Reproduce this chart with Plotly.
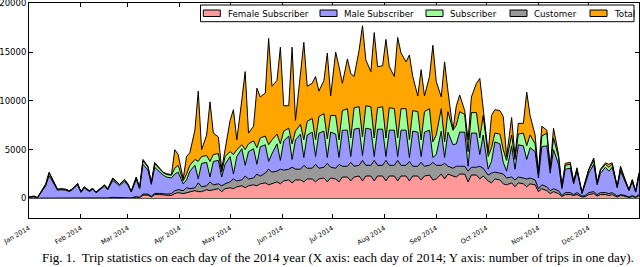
import datetime as dt
import plotly.graph_objects as go

# ---- data ----
day_offsets = [0, 1, 3, 5, 8, 10, 12, 15, 17, 19, 22, 24, 26, 29, 31, 33, 36, 38, 40, 43, 45, 47,
               50, 52, 54, 57, 59, 61, 64, 66, 68, 71, 73, 75, 78, 80, 82, 85, 87, 89, 92, 94, 96,
               99, 101, 103, 106, 108, 110, 113, 115, 117, 120, 122, 124, 127, 129, 131, 134, 136, 138,
               141, 143, 145, 148, 150, 152, 155, 157, 159, 162, 164, 166, 169, 171, 173, 176, 178, 180,
               183, 185, 187, 190, 192, 194, 197, 199, 201, 204, 206, 208, 211, 213, 215, 218, 220, 222,
               225, 227, 229, 232, 234, 236, 239, 241, 243, 246, 248, 250, 253, 255, 257, 260, 262, 264,
               267, 269, 271, 274, 276, 278, 281, 283, 285, 288, 290, 292, 295, 297, 299, 302, 304, 306,
               309, 311, 313, 316, 318, 320, 323, 325, 327, 330, 332, 334, 337, 339, 341, 344, 346, 348,
               351, 353, 355, 358, 360, 362, 364]

female_top = [20, 20, 30, 10, 40, 50, 60, 50, 40, 40, 40, 30, 40, 60, 30, 50, 40, 50, 30, 50, 60, 40,
              80, 70, 60, 80, 70, 40, 150, 80, 350, 350, 150, 400, 400, 350, 300, 300, 500, 600, 500, 600, 700,
              800, 700, 700, 900, 800, 900, 1000, 700, 1000, 1100, 1000, 1200, 1300, 1100, 1300, 1400, 1300, 1500,
              1600, 1400, 1500, 1700, 1500, 1800, 1900, 1600, 1900, 1900, 1700, 2000, 2000, 1700, 2000, 2100, 1700, 2100,
              2000, 1700, 2200, 2200, 1800, 2200, 2300, 1800, 2300, 2300, 1800, 2300, 2300, 1800, 2300, 2300, 1800, 2300,
              2300, 1800, 2300, 2300, 1900, 2300, 2400, 1900, 2000, 2500, 2000, 2500, 2300, 2200, 2500, 2500, 1700, 2400,
              2400, 2000, 2300, 1800, 1600, 2000, 1900, 1500, 1400, 1600, 1200, 1600, 1500, 1200, 1500, 1400, 700, 1000,
              800, 500, 700, 500, 200, 400, 400, 300, 400, 150, 200, 400, 500, 250, 400, 400, 300, 400,
              150, 300, 250, 100, 200, 100, 300]

customer_top = [30, 30, 40, 15, 60, 70, 90, 80, 60, 60, 60, 50, 60, 90, 50, 70, 60, 70, 50, 70, 90, 60,
                120, 100, 90, 120, 100, 60, 200, 120, 450, 450, 230, 520, 520, 480, 450, 500, 800, 900, 800, 1100, 1000,
                1100, 1600, 1200, 1300, 1700, 1400, 1500, 1300, 1500, 1700, 2000, 1800, 1900, 2300, 2000, 2100, 2500, 2300,
                2600, 3000, 2700, 2800, 3000, 2900, 3000, 3200, 3000, 3000, 3400, 3100, 3100, 3500, 3100, 3200, 3600, 3200,
                3100, 3500, 3300, 3300, 3700, 3300, 3400, 3900, 3400, 3400, 3900, 3400, 3400, 3900, 3400, 3400, 3900, 3400,
                3400, 3800, 3300, 3300, 3700, 3300, 3400, 3700, 3400, 3400, 3600, 3300, 3100, 3300, 3300, 3300, 2800, 3200,
                3200, 3300, 3100, 2400, 2600, 2700, 2600, 2500, 2100, 2200, 1900, 2200, 2100, 2000, 2100, 1900, 1000, 1400,
                1200, 800, 1000, 800, 300, 600, 600, 400, 600, 250, 300, 600, 700, 400, 600, 600, 500, 600,
                250, 400, 350, 150, 300, 150, 400]

male_top = [110, 150, 200, 60, 780, 1300, 2350, 1420, 840, 900, 850, 700, 900, 1400, 610, 1080, 710, 940, 580, 990, 1260, 890,
            1850, 1590, 1300, 1750, 1350, 670, 1950, 980, 3500, 2900, 1450, 3200, 2700, 2400, 2200, 2100, 2500, 2700, 1500, 1900, 2800,
            3400, 2000, 3600, 3700, 2200, 3800, 3900, 2200, 3500, 4300, 2500, 4300, 5100, 3400, 4800, 5100, 3500, 5300,
            5500, 3800, 4600, 5600, 3900, 5900, 6400, 4000, 6000, 6600, 4200, 6500, 6800, 4300, 6700, 6900, 4200, 6800,
            6600, 4200, 7000, 7000, 4300, 7100, 7200, 4400, 7200, 7100, 4300, 7100, 7100, 4300, 7000, 7000, 4300, 7000,
            7000, 4200, 6900, 6800, 4300, 6800, 7000, 4200, 4500, 6900, 4200, 6800, 5500, 5600, 6800, 6800, 3300, 6700,
            6700, 4500, 6500, 3000, 3800, 5800, 5600, 3700, 2800, 5400, 3000, 5500, 5400, 4000, 5200, 4800, 2100, 5300,
            5400, 2600, 5000, 3500, 1000, 3000, 3100, 1500, 2800, 500, 1500, 2600, 3500, 1400, 2600, 3200, 2800, 3200,
            1100, 2800, 2000, 800, 1700, 650, 2300]

subscriber_top = [140, 190, 235, 75, 870, 1450, 2620, 1560, 920, 980, 930, 780, 980, 1520, 680, 1180, 785, 1030, 640, 1080, 1380, 980,
                  2030, 1740, 1420, 1910, 1470, 740, 2150, 1080, 3850, 3200, 1610, 3550, 2950, 2650, 2450, 2380, 3100, 3400, 1800, 2500, 3400,
                  4000, 3800, 4300, 4400, 3800, 4500, 4600, 2700, 4300, 4800, 4500, 5000, 5500, 5000, 5600, 5900, 5200, 6200,
                  6400, 5500, 6000, 6600, 5600, 6900, 7200, 5600, 6900, 7600, 6000, 7900, 8200, 6000, 8400, 8700, 6100, 8500,
                  8500, 6000, 9000, 9200, 6200, 9300, 9400, 6300, 9500, 9400, 6200, 9300, 9400, 6200, 9300, 9200, 6200, 9200,
                  9200, 6000, 9000, 8900, 6000, 8900, 9200, 5800, 6500, 9200, 5800, 8900, 7000, 7500, 8900, 8600, 4800, 8800,
                  8800, 6200, 8500, 4300, 5200, 6700, 6600, 5000, 3900, 6500, 4000, 6600, 6700, 5400, 6500, 5600, 2500, 6400,
                  6700, 3000, 6200, 4200, 1200, 3400, 3500, 1700, 3000, 580, 1750, 2900, 3900, 1600, 2900, 3500, 3200, 3500,
                  1200, 3100, 2200, 880, 1900, 720, 2550]

total = [150, 200, 250, 80, 900, 1500, 2700, 1600, 950, 1000, 950, 800, 1000, 1550, 700, 1200, 800, 1050, 650, 1100, 1400, 1000,
         2100, 1770, 1450, 1950, 1500, 750, 2200, 1100, 4000, 3300, 1650, 3700, 3100, 2700, 2550, 2450, 5000, 4500, 2000, 4300, 4700,
         7000, 11000, 5000, 6500, 9900, 6700, 6300, 3000, 5000, 8000, 9100, 6000, 10100, 13000, 6700, 7400, 11300, 10400,
         10800, 16400, 11500, 12100, 15500, 9500, 9500, 15500, 8000, 13000, 16000, 11500, 11800, 12500, 11000, 12100, 14900, 10500,
         15000, 13500, 11800, 14300, 12800, 12500, 15200, 17700, 14200, 13000, 17000, 13500, 13600, 16300, 13500, 12500, 16500, 14900,
         14000, 14700, 12500, 10500, 13200, 10500, 12500, 15700, 12000, 10400, 14000, 11000, 7000, 9500, 10600, 9000, 6000, 10400,
         11800, 12300, 9000, 4700, 8500, 9100, 9000, 8400, 4300, 8300, 4300, 7700, 7700, 10900, 8500, 6500, 2650, 7400,
         7000, 3100, 7200, 4500, 1250, 3600, 3700, 1750, 3150, 600, 1800, 3000, 4150, 1650, 3000, 3650, 3500, 3650,
         1250, 3300, 2300, 900, 1940, 750, 2650]

month_ticks = ["2014-01-01", "2014-02-01", "2014-03-01", "2014-04-01", "2014-05-01", "2014-06-01",
               "2014-07-01", "2014-08-01", "2014-09-01", "2014-10-01", "2014-11-01", "2014-12-01"]
month_labels = ["Jan 2014", "Feb 2014", "Mar 2014", "Apr 2014", "May 2014", "Jun 2014",
                "Jul 2014", "Aug 2014", "Sep 2014", "Oct 2014", "Nov 2014", "Dec 2014"]
y_ticks = [0, 5000, 10000, 15000, 20000]
y_labels = ["0", "5000", "10000", "15000", "20000"]

legend_names = ["Female Subscriber", "Male Subscriber", "Subscriber", "Customer", "Total"]
caption = ("Fig. 1.\u00a0 Trip statistics on each day of the 2014 year (X axis: each day of 2014; "
           "Y axis: number of trips in one day).")

# ---- figure ----
start = dt.datetime(2014, 1, 1)
dates = [start + dt.timedelta(days=d) for d in day_offsets]

colors = {"Female Subscriber": "#ff9999", "Male Subscriber": "#9999ff",
          "Subscriber": "#99ff99", "Customer": "#999999", "Total": "#ffa500"}

layers = [("Female Subscriber", female_top, "tozeroy"),
          ("Customer", customer_top, "tonexty"),
          ("Male Subscriber", male_top, "tonexty"),
          ("Subscriber", subscriber_top, "tonexty"),
          ("Total", total, "tonexty")]

fig = go.Figure()
for name, ys, fill in layers:
    fig.add_trace(go.Scatter(x=dates, y=ys, mode="lines", name=name, fill=fill,
                             fillcolor=colors[name], line=dict(color="black", width=1),
                             showlegend=False, hoverinfo="skip"))

W, H = 640, 267
L, R, T, B = 29, 1, 3, 49
PW, PH = W - L - R, H - T - B


def px_x(p):
    return (p - L) / PW


def px_y(p):
    return (H - B - p) / PH


shapes = [dict(type="line", xref="paper", yref="y", x0=0, x1=1, y0=0, y1=0,
               line=dict(color="#555555", width=1), layer="above"),
          dict(type="rect", xref="paper", yref="paper", x0=px_x(200.5), x1=px_x(634),
               y0=px_y(21.7), y1=px_y(5), line=dict(color="black", width=1),
               fillcolor="white", layer="above")]
annotations = []
patch_x = [203.3, 320, 426, 510, 590]
text_x = [226.5, 343.3, 449.3, 533.3, 613.3]
for name, px0, tx in zip(legend_names, patch_x, text_x):
    shapes.append(dict(type="rect", xref="paper", yref="paper", x0=px_x(px0), x1=px_x(px0 + 17),
                       y0=px_y(16.5), y1=px_y(10), line=dict(color="black", width=1),
                       fillcolor=colors[name], layer="above"))
    annotations.append(dict(text=name, xref="paper", yref="paper", x=px_x(tx), y=px_y(13.5),
                            xanchor="left", yanchor="middle", showarrow=False,
                            font=dict(family="DejaVu Sans", size=8.7, color="black"), borderpad=0))

annotations.append(dict(text=caption, xref="paper", yref="paper", x=px_x(337.5), y=px_y(257),
                        xanchor="center", yanchor="middle", showarrow=False,
                        font=dict(family="Liberation Serif", size=13, color="black")))

fig.update_layout(
    width=W, height=H, autosize=False,
    margin=dict(l=L, r=R, t=T, b=B, pad=0, autoexpand=False),
    paper_bgcolor="white", plot_bgcolor="white",
    showlegend=False, hovermode=False,
    shapes=shapes, annotations=annotations,
    xaxis=dict(type="date", range=["2014-01-01", "2014-12-31"], tickvals=month_ticks,
               ticktext=month_labels, tickangle=-30, ticks="inside", ticklen=4,
               tickcolor="black", showline=True, linecolor="black", linewidth=1,
               mirror="ticks", showgrid=False, zeroline=False, automargin=False,
               ticklabeloverflow="allow", ticklabelstandoff=3,
               tickfont=dict(family="DejaVu Sans", size=6.5, color="black")),
    yaxis=dict(range=[-2000, 20030], tickvals=y_ticks, ticktext=y_labels, ticks="inside",
               ticklen=4, tickcolor="black", showline=True, linecolor="black", linewidth=1,
               mirror="ticks", showgrid=False, zeroline=False, automargin=False,
               ticklabeloverflow="allow",
               tickfont=dict(family="DejaVu Sans", size=8.5, color="black")),
)

fig.write_html("out.html", config={"displayModeBar": False},
               post_script="document.body.style.margin='0';document.body.style.overflow='hidden';")
